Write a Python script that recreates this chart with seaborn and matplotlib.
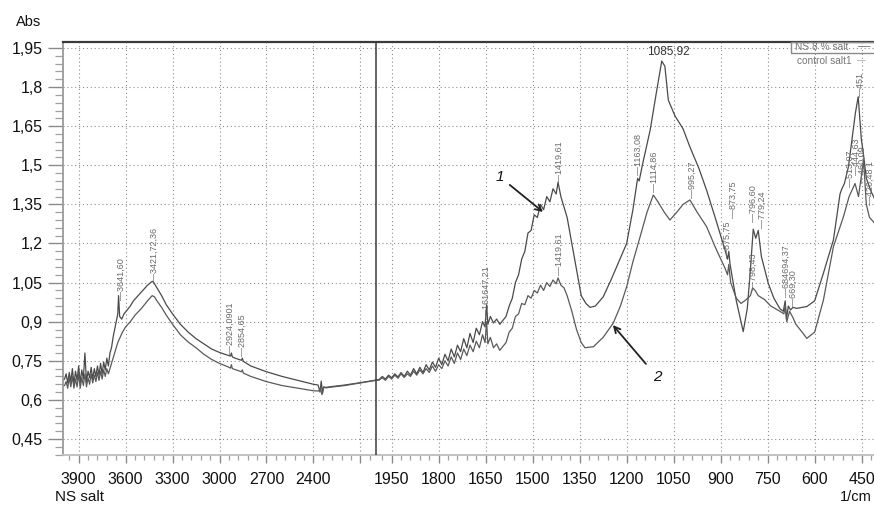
import numpy as np
import pandas as pd
import matplotlib
matplotlib.use("Agg")
import matplotlib.pyplot as plt
import seaborn as sns
from matplotlib.ticker import FixedLocator, FuncFormatter
from matplotlib.patches import Rectangle

# ---------------- data ----------------
salt_wn = [
    4000, 3990, 3980, 3970, 3960, 3950, 3940, 3930, 3920, 3910,
    3900, 3890, 3880, 3870, 3860, 3850, 3840, 3830, 3820, 3810,
    3800, 3790, 3780, 3770, 3760, 3750, 3740, 3730, 3720, 3710,
    3700, 3690, 3680, 3670, 3660, 3650, 3645, 3638, 3625, 3610,
    3590, 3570, 3550, 3520, 3490, 3460, 3430, 3420, 3400, 3370,
    3340, 3300, 3250, 3200, 3150, 3100, 3050, 3000, 2950, 2930,
    2924, 2918, 2900, 2860, 2854, 2848, 2800, 2700, 2600, 2500,
    2480, 2400, 2370, 2358, 2350, 2342, 2335, 2320, 2300, 2200,
    2100, 2000, 1990, 1980, 1970, 1960, 1950, 1940, 1930, 1920,
    1910, 1900, 1890, 1880, 1870, 1860, 1850, 1840, 1830, 1820,
    1810, 1800, 1790, 1780, 1770, 1760, 1750, 1740, 1730, 1720,
    1710, 1700, 1690, 1680, 1670, 1660, 1652, 1647, 1643, 1635,
    1625, 1615, 1605, 1595, 1585, 1575, 1565, 1555, 1545, 1535,
    1525, 1515, 1505, 1495, 1485, 1475, 1465, 1455, 1445, 1435,
    1425, 1419, 1410, 1400, 1390, 1375, 1360, 1345, 1330, 1317,
    1300, 1275, 1250, 1225, 1200, 1180, 1165, 1160, 1150, 1125,
    1105, 1088, 1078, 1067, 1046, 1020, 998, 970, 945, 915,
    886, 878, 874, 870, 850, 828, 815, 805, 796, 788,
    780, 770, 748, 730, 711, 700, 694, 690, 684, 677,
    669, 657, 640, 625, 600, 572, 540, 519, 513, 505,
    492, 470, 461, 451, 445, 435, 420, 400,
]
salt_abs = [
    0.675, 0.68, 0.70, 0.665, 0.705, 0.67, 0.72, 0.66, 0.71, 0.675,
    0.73, 0.665, 0.715, 0.68, 0.78, 0.67, 0.71, 0.685, 0.725, 0.68,
    0.72, 0.69, 0.73, 0.695, 0.74, 0.70, 0.745, 0.715, 0.76, 0.73,
    0.78, 0.80, 0.84, 0.87, 0.90, 0.93, 1.00, 0.92, 0.91, 0.93,
    0.945, 0.96, 0.98, 1.00, 1.02, 1.04, 1.055, 1.05, 1.03, 1.00,
    0.965, 0.93, 0.89, 0.86, 0.835, 0.815, 0.795, 0.782, 0.772, 0.768,
    0.78, 0.765, 0.76, 0.752, 0.76, 0.748, 0.73, 0.708, 0.69, 0.675,
    0.672, 0.66, 0.657, 0.63, 0.672, 0.625, 0.65, 0.648, 0.65, 0.657,
    0.666, 0.676, 0.678, 0.69, 0.68, 0.695, 0.685, 0.70, 0.688, 0.705,
    0.69, 0.71, 0.695, 0.72, 0.70, 0.725, 0.705, 0.735, 0.715, 0.745,
    0.725, 0.76, 0.735, 0.775, 0.75, 0.795, 0.765, 0.81, 0.785, 0.835,
    0.80, 0.855, 0.82, 0.875, 0.85, 0.90, 0.88, 0.965, 0.89, 0.92,
    0.895, 0.91, 0.89, 0.905, 0.92, 0.96, 0.99, 1.05, 1.08, 1.14,
    1.17, 1.24, 1.25, 1.31, 1.30, 1.35, 1.33, 1.38, 1.36, 1.41,
    1.39, 1.435, 1.38, 1.34, 1.30, 1.20, 1.10, 1.00, 0.97, 0.955,
    0.96, 0.995, 1.06, 1.13, 1.20, 1.33, 1.45, 1.44, 1.50, 1.635,
    1.78, 1.90, 1.88, 1.75, 1.69, 1.64, 1.57, 1.49, 1.405, 1.29,
    1.175, 1.14, 1.17, 1.12, 0.98, 0.862, 0.95, 1.10, 1.255, 1.22,
    1.25, 1.15, 1.047, 0.99, 0.95, 0.94, 0.98, 0.91, 0.96, 0.945,
    0.955, 0.951, 0.955, 0.958, 0.98, 1.086, 1.214, 1.39, 1.41, 1.43,
    1.495, 1.70, 1.763, 1.60, 1.55, 1.45, 1.40, 1.35,
]
control_wn = [
    4000, 3990, 3980, 3970, 3960, 3950, 3940, 3930, 3920, 3910,
    3900, 3890, 3880, 3870, 3860, 3850, 3840, 3830, 3820, 3810,
    3800, 3790, 3780, 3770, 3760, 3750, 3740, 3730, 3720, 3710,
    3700, 3690, 3680, 3665, 3650, 3635, 3620, 3600, 3570, 3540,
    3500, 3460, 3430, 3415, 3400, 3370, 3340, 3300, 3250, 3200,
    3150, 3100, 3050, 3000, 2950, 2930, 2924, 2918, 2860, 2854,
    2848, 2800, 2700, 2600, 2500, 2400, 2365, 2355, 2345, 2335,
    2320, 2300, 2200, 2100, 2000, 1990, 1980, 1970, 1960, 1950,
    1940, 1930, 1920, 1910, 1900, 1890, 1880, 1870, 1860, 1850,
    1840, 1830, 1820, 1810, 1800, 1790, 1780, 1770, 1760, 1750,
    1740, 1730, 1720, 1710, 1700, 1690, 1680, 1670, 1660, 1652,
    1647, 1643, 1635, 1625, 1615, 1605, 1595, 1585, 1575, 1565,
    1555, 1545, 1535, 1525, 1515, 1505, 1495, 1485, 1475, 1465,
    1455, 1445, 1435, 1425, 1419, 1410, 1400, 1390, 1375, 1360,
    1345, 1333, 1306, 1275, 1243, 1220, 1200, 1180, 1157, 1135,
    1115, 1100, 1080, 1062, 1040, 1020, 998, 975, 945, 915,
    886, 878, 874, 868, 850, 835, 818, 805, 798, 790,
    780, 760, 740, 711, 698, 694, 689, 680, 669, 660,
    640, 625, 600, 572, 540, 508, 490, 471, 460, 444,
    435, 425, 410, 400,
]
control_abs = [
    0.655, 0.655, 0.67, 0.645, 0.685, 0.65, 0.69, 0.645, 0.68, 0.65,
    0.70, 0.645, 0.685, 0.655, 0.70, 0.65, 0.685, 0.66, 0.70, 0.665,
    0.695, 0.67, 0.705, 0.675, 0.71, 0.68, 0.715, 0.69, 0.72, 0.70,
    0.72, 0.74, 0.76, 0.79, 0.82, 0.84, 0.86, 0.88, 0.90, 0.925,
    0.95, 0.98, 1.00, 0.995, 0.98, 0.955, 0.925, 0.89, 0.85, 0.822,
    0.80, 0.775, 0.755, 0.74, 0.728, 0.722, 0.735, 0.72, 0.708, 0.715,
    0.703, 0.69, 0.67, 0.655, 0.645, 0.635, 0.634, 0.645, 0.62, 0.648,
    0.646, 0.648, 0.655, 0.665, 0.675, 0.676, 0.685, 0.675, 0.69, 0.68,
    0.695, 0.683, 0.70, 0.686, 0.70, 0.69, 0.71, 0.695, 0.715, 0.70,
    0.72, 0.705, 0.73, 0.71, 0.735, 0.72, 0.75, 0.73, 0.765, 0.74,
    0.78, 0.755, 0.795, 0.77, 0.81, 0.785, 0.825, 0.80, 0.85, 0.82,
    0.90, 0.815, 0.84, 0.80, 0.815, 0.79, 0.805, 0.82, 0.86, 0.875,
    0.92, 0.93, 0.97, 0.965, 1.00, 0.99, 1.02, 1.01, 1.04, 1.02,
    1.05, 1.035, 1.06, 1.045, 1.068, 1.04, 1.03, 1.00, 0.94, 0.87,
    0.82, 0.80, 0.804, 0.84, 0.894, 0.96, 1.034, 1.13, 1.226, 1.32,
    1.386, 1.36, 1.32, 1.29, 1.32, 1.35, 1.367, 1.32, 1.265, 1.18,
    1.105, 1.08, 1.12, 1.05, 0.99, 0.97, 0.985, 1.00, 1.03, 1.02,
    1.00, 0.985, 0.96, 0.94, 0.93, 0.965, 0.90, 0.94, 0.915, 0.89,
    0.86, 0.836, 0.86, 0.983, 1.188, 1.303, 1.38, 1.43, 1.38, 1.52,
    1.35, 1.30, 1.28, 1.25,
]
assert len(salt_wn) == len(salt_abs)
assert len(control_wn) == len(control_abs)

series_names = ["NS 8 % salt", "control salt1"]

x_major_ticks = [3900, 3600, 3300, 3000, 2700, 2400, 2100,
                 1950, 1800, 1650, 1500, 1350, 1200, 1050, 900, 750, 600, 450]
x_tick_labels = ["3900", "3600", "3300", "3000", "2700", "2400", "",
                 "1950", "1800", "1650", "1500", "1350", "1200", "1050", "900",
                 "750", "600", "450"]
y_major_ticks = [0.45, 0.6, 0.75, 0.9, 1.05, 1.2, 1.35, 1.5, 1.65, 1.8, 1.95]

peak_labels = ["3641,60", "3421,72,36", "2924,0901", "2854,65", "161647,21",
               "1419,61", "1419,61", "1163,08", "1114,86", "995,27",
               "873,75", "875,75", "796,60", "779,24", "798,43",
               "684694,37", "669,30", "513,07", "444,63", "460,09",
               "451", "420,48 1"]
peak_label_wn = [3629, 3419, 2933, 2856, 1649, 1416, 1416, 1164, 1113, 991,
                 861, 880, 797, 768, 797, 691, 669, 487, 468, 449, 455, 423]
peak_label_abs = [0.983, 1.052, 0.776, 0.769, 0.914, 1.432, 1.079, 1.463, 1.398,
                  1.375, 1.298, 1.144, 1.283, 1.26, 1.022, 0.995, 0.957, 1.417,
                  1.463, 1.432, 1.762, 1.348]

# ---------------- figure ----------------
sns.set_theme(style="white")
plt.rcParams["font.family"] = ["Liberation Sans", "DejaVu Sans"]

W, H = 874, 508
fig = plt.figure(figsize=(W / 100, H / 100), dpi=100)
ax = fig.add_axes([63 / W, 53 / H, 814.3 / W, 413 / H])

# broken wavenumber axis: 4000-2000 compressed, 2000-400 expanded
K_HI, K_LO, BRK = 0.1565, 0.3133, 2000.0
P_BRK = (BRK - 400) * K_LO


def fwd(w):
    w = np.asarray(w, dtype=float)
    return np.where(w >= BRK, P_BRK + (w - BRK) * K_HI, (w - 400) * K_LO)


def inv(p):
    p = np.asarray(p, dtype=float)
    return np.where(p >= P_BRK, BRK + (p - P_BRK) / K_HI, 400 + p / K_LO)


ax.set_xscale("function", functions=(fwd, inv))

df = pd.concat([
    pd.DataFrame({"wn": salt_wn, "abs": salt_abs, "s": series_names[0]}),
    pd.DataFrame({"wn": control_wn, "abs": control_abs, "s": series_names[1]}),
])
sns.lineplot(data=df, x="wn", y="abs", hue="s", units="s", estimator=None,
             palette=["#4a4a4a", "#5a5a5a"], linewidth=0.9, legend=False, ax=ax)

ax.set_xlim(4000, 400)
ax.set_ylim(0.3886, 1.973)
ax.set_xlabel("")
ax.set_ylabel("")

# ticks
ax.xaxis.set_major_locator(FixedLocator(x_major_ticks))
ax.set_xticklabels(x_tick_labels)
minor_x = [v for v in list(np.arange(3960, 2000, -60)) + list(np.arange(1980, 400, -30))
           if v not in x_major_ticks]
ax.xaxis.set_minor_locator(FixedLocator(minor_x))
ax.yaxis.set_major_locator(FixedLocator(y_major_ticks))
ax.yaxis.set_minor_locator(FixedLocator(list(np.arange(0.39, 1.97, 0.03))))
ax.yaxis.set_major_formatter(FuncFormatter(
    lambda v, p: ("%.2f" % v).rstrip("0").replace(".", ",")))

ax.tick_params(axis="y", which="major", direction="out", length=11, width=1.0,
               color="#8a8a8a", pad=3.5, labelsize=11.5, labelcolor="#111", left=True)
ax.tick_params(axis="y", which="minor", direction="out", length=6, width=0.9,
               color="#a0a0a0", left=True)
ax.tick_params(axis="x", which="major", direction="out", length=6, width=1.0,
               color="#8a8a8a", pad=6, labelsize=11.5, labelcolor="#111", bottom=True)
ax.tick_params(axis="x", which="minor", direction="out", length=3.5, width=0.9,
               color="#a0a0a0", bottom=True)

ax.grid(True, which="major", linestyle=(0, (1, 2.5)), color="#8c8c8c", linewidth=0.8)

ax.spines["right"].set_visible(False)
ax.spines["top"].set_color("#3a3a3a")
ax.spines["top"].set_linewidth(1.6)
ax.spines["left"].set_color("#9a9a9a")
ax.spines["left"].set_linewidth(1.3)
ax.spines["bottom"].set_color("#bdbdbd")
ax.spines["bottom"].set_linewidth(1.3)

ax.axvline(BRK, color="#3a3a3a", linewidth=1.1, zorder=3)

# peak labels
for t, w, a in zip(peak_labels, peak_label_wn, peak_label_abs):
    ax.text(w, a, "\u2014" + t, rotation=90, ha="center", va="bottom",
            fontsize=6.5, color="#6a6a6a", zorder=4)

ax.text(1068, 1.935, "1085,92", ha="center", va="center", fontsize=8.5,
        color="#333333")

ax.annotate("1", xy=(1467, 1.321), xytext=(1604, 1.455), ha="center", va="center",
            fontsize=11, style="italic", color="#111",
            arrowprops=dict(arrowstyle="->", lw=1.3, color="#222", shrinkA=2, shrinkB=0))
ax.annotate("2", xy=(1244, 0.887), xytext=(1103, 0.688), ha="center", va="center",
            fontsize=11, style="italic", color="#111",
            arrowprops=dict(arrowstyle="->", lw=1.3, color="#222", shrinkA=4, shrinkB=0))

# legend (top right, partly cut)
fig.patches.append(Rectangle((791 / W, 1 - 53 / H), 90 / W, 11 / H,
                             transform=fig.transFigure, fill=False,
                             edgecolor="#8a8a8a", linewidth=1.0))
fig.text(795 / W, 1 - 47.5 / H, series_names[0], fontsize=7.3, color="#777",
         ha="left", va="center")
fig.text(858 / W, 1 - 47.5 / H, "\u2014", fontsize=9, color="#777",
         ha="left", va="center")
fig.text(797 / W, 1 - 61 / H, series_names[1], fontsize=7.3, color="#777",
         ha="left", va="center")
fig.text(857 / W, 1 - 61 / H, "\u2014", fontsize=6, color="#777",
         ha="left", va="center")

# axis captions
fig.text(16 / W, 1 - 22 / H, "Abs", fontsize=10.5, color="#111", ha="left", va="center")
fig.text(55 / W, 1 - 497 / H, "NS salt", fontsize=11, color="#111", ha="left", va="center")
fig.text(872 / W, 1 - 497 / H, "1/cm", fontsize=10.5, color="#111", ha="right", va="center")

fig.savefig("out.png", dpi=100)
